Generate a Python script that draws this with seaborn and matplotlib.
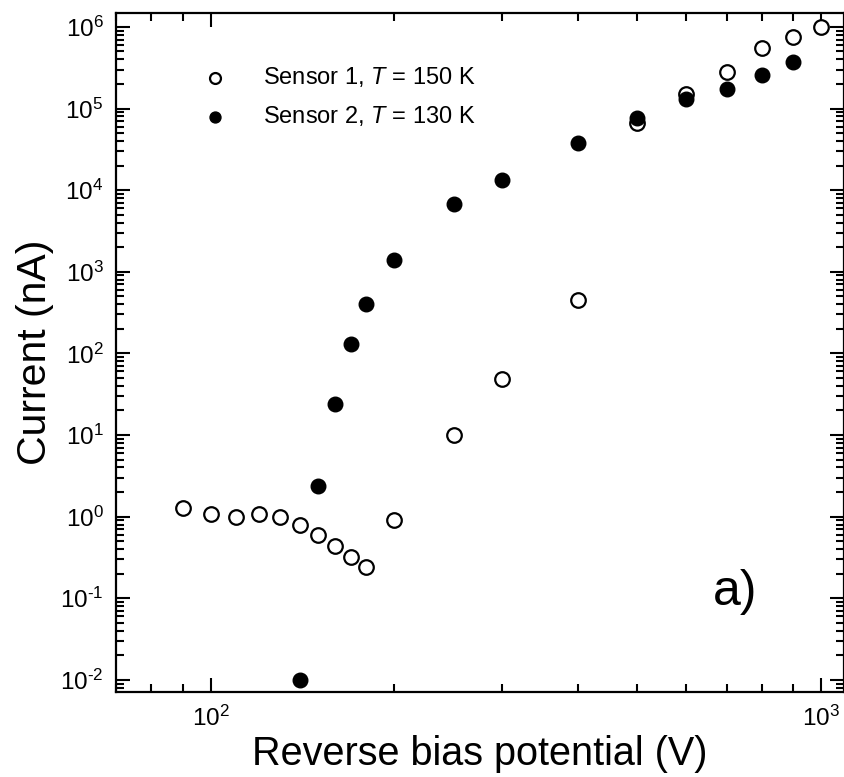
import matplotlib
matplotlib.use("Agg")
import matplotlib.pyplot as plt
import seaborn as sns
import pandas as pd
import numpy as np
from matplotlib.ticker import LogLocator, NullFormatter, FuncFormatter

sns.set_style("ticks")
plt.rcParams['font.family'] = ['Liberation Sans', 'DejaVu Sans']
plt.rcParams['mathtext.fontset'] = 'custom'
plt.rcParams['mathtext.it'] = 'Liberation Sans:italic'
plt.rcParams['mathtext.rm'] = 'Liberation Sans'
for k in ['text.color', 'axes.labelcolor', 'xtick.color', 'ytick.color', 'axes.edgecolor']:
    plt.rcParams[k] = 'black'

# Sensor 1, T = 150 K (open circles)
s1_voltage = [90, 100, 110, 120, 130, 140, 150, 160, 170, 180, 200, 250, 300, 400, 500, 600, 700, 800, 900, 1000]
s1_current = [1.29, 1.09, 0.98, 1.09, 0.98, 0.80, 0.60, 0.44, 0.32, 0.24, 0.90, 10.0, 49, 445, 6.6e4, 1.5e5, 2.8e5, 5.5e5, 7.6e5, 1.0e6]

# Sensor 2, T = 130 K (filled circles)
s2_voltage = [140, 150, 160, 170, 180, 200, 250, 300, 400, 500, 600, 700, 800, 900]
s2_current = [0.01, 2.4, 24, 130, 400, 1400, 6800, 13200, 38000, 7.6e4, 1.31e5, 1.73e5, 2.58e5, 3.7e5]

label1 = "Sensor 1, $T$ = 150 K"
label2 = "Sensor 2, $T$ = 130 K"

df1 = pd.DataFrame({"V": s1_voltage, "I": s1_current})
df2 = pd.DataFrame({"V": s2_voltage, "I": s2_current})

fig = plt.figure(figsize=(8.45, 7.77), dpi=100)
ax = fig.add_axes([116/845, 1 - 692/777, 1 - 116/845 - 0.001, (692 - 13)/777])

sns.scatterplot(data=df1, x="V", y="I", ax=ax, s=110, facecolor="white",
                edgecolor="black", linewidth=1.6, label=label1, zorder=3)
sns.scatterplot(data=df2, x="V", y="I", ax=ax, s=110, color="black",
                edgecolor="black", linewidth=1.0, label=label2, zorder=3)

ax.set_xscale("log")
ax.set_yscale("log")
ax.set_xlim(70, 1090)
ax.set_ylim(0.0071, 1.48e6)


def pow_fmt(v, pos):
    n = int(round(np.log10(v)))
    if n < 0:
        return r"$10^{\text{-%d}}$" % (-n)
    return r"$10^{%d}$" % n


ax.yaxis.set_major_locator(LogLocator(base=10, numticks=20))
ax.yaxis.set_minor_locator(LogLocator(base=10, subs=np.arange(2, 10), numticks=20))
ax.yaxis.set_major_formatter(FuncFormatter(pow_fmt))
ax.xaxis.set_major_formatter(FuncFormatter(pow_fmt))
ax.yaxis.set_minor_formatter(NullFormatter())
ax.xaxis.set_minor_formatter(NullFormatter())

ax.tick_params(which="both", direction="in", top=True, right=True, width=1.5)
ax.tick_params(which="major", length=10, labelsize=17.5)
ax.tick_params(axis="y", which="major", pad=9)
ax.tick_params(axis="x", which="major", pad=10)
ax.tick_params(which="minor", length=6)
for sp in ax.spines.values():
    sp.set_linewidth(1.6)
    sp.set_visible(True)
    sp.set_color("black")

ax.set_xlabel("Reverse bias potential (V)", fontsize=28.5, labelpad=3)
ax.set_ylabel("Current (nA)", fontsize=29.5, labelpad=4)

leg = ax.legend(loc="upper left", bbox_to_anchor=(0.075, 0.955), frameon=False,
                fontsize=17, handletextpad=1.0, labelspacing=0.65,
                markerscale=0.75)

ax.text(0.85, 0.147, "a)", transform=ax.transAxes, fontsize=36,
        ha="center", va="center")

fig.savefig("out.png", dpi=100)
